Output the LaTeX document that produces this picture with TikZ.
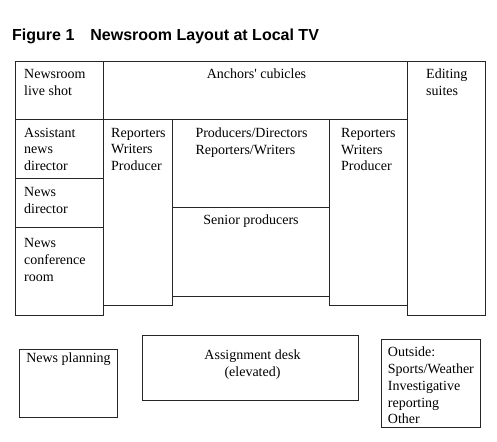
\documentclass[tikz,border=0pt]{standalone}
\usepackage{fontspec}
\setmainfont{Liberation Serif}
\newfontfamily\titlefont{Liberation Sans}

\begin{document}
\begin{tikzpicture}[x=1pt, y=-1pt,
    wall/.style={line width=.8pt, black!85},
    room/.style={inner sep=0pt, align=left, font=\fontsize{14}{16.8}\selectfont}]
            \useasboundingbox (0,0) rectangle (497,441);
            \node[anchor=base west, inner sep=0pt, font=\titlefont\bfseries\fontsize{16}{19}\selectfont]
            (title) at (12,40.5) {Figure 1\hspace{16pt}Newsroom Layout at Local TV};
            % walls of the newsroom
            \foreach \xa/\ya/\xb/\yb in {15.5/61/103/119.5, 103/61/407/119.5, 407/61/485.7/315.3,
                15.5/119.5/103/178, 15.5/178/103/227.3, 15.5/227.3/103/315.3,
                103/119.5/172/305.3, 172/119.5/329/207.3, 172/207.3/329/296, 329/119.5/407/305} {
                \draw[wall] (\xa,\ya) rectangle (\xb,\yb);
            }
            % desks outside
            \foreach \xa/\ya/\xb/\yb in {19.3/349/117.7/417.3, 142.7/335/358.3/400, 381.7/339/480/427.3} {
                \draw[wall] (\xa,\ya) rectangle (\xb,\yb);
            }
            \node[room, anchor=north west] (liveshot) at (24,69) {Newsroom\\live shot};
            \node[room, anchor=north] (anchors) at (256.5,69) {Anchors\textquotesingle\ cubicles};
            \node[room, anchor=north west] (editing) at (426,68.7) {Editing\\suites};
            \node[room, anchor=north west] (asstdir) at (24,127.7) {Assistant\\news\\director};
            \node[room, anchor=north west] (newsdir) at (24,187) {News\\director};
            \node[room, anchor=north west] (conference) at (24,238.5) {News\\conference\\room};
            \node[room, anchor=north west] (reportersL) at (111,127.7) {Reporters\\Writers\\Producer};
            \node[room, anchor=north] (producers) at (251.5,127.4) {Producers/Directors\\Reporters/Writers};
            \node[room, anchor=north] (senior) at (251,215) {Senior producers};
            \node[room, anchor=north west] (reportersR) at (341,128) {Reporters\\Writers\\Producer};
            \node[room, anchor=north] (planning) at (68.5,352.5) {News planning};
            \node[room, anchor=north, align=center] (assignment) at (252.5,349.3) {Assignment desk\\(elevated)};
            \node[room, anchor=north west] (outside) at (387.7,346.7)
            {Outside:\\Sports/Weather\\Investigative\\reporting\\Other};
        \end{tikzpicture}
\end{document}
